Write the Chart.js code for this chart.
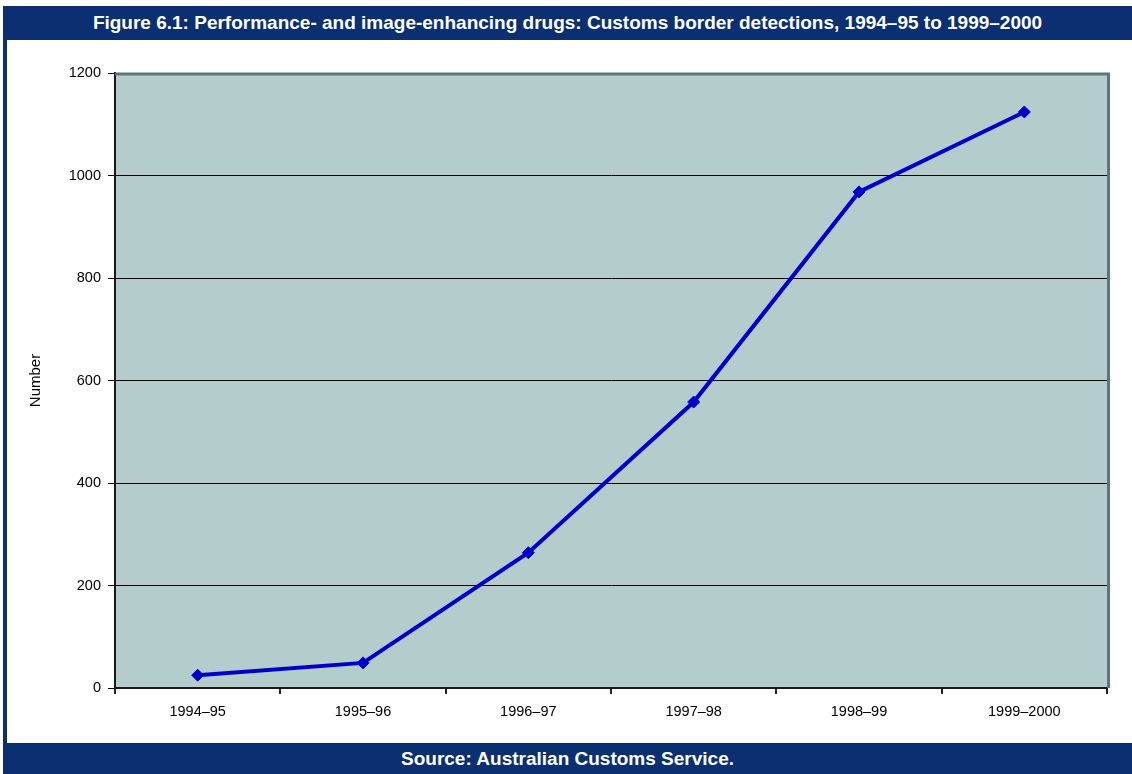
<!DOCTYPE html>
<html>
<head>
<meta charset="utf-8">
<script src="https://cdn.jsdelivr.net/npm/chart.js@4/dist/chart.umd.min.js"></script>
<style>
  html, body { margin: 0; padding: 0; background: #ffffff; }
  body { width: 1132px; height: 774px; position: relative; overflow: hidden; font-family: "Liberation Sans", Arial, sans-serif; }
  #chart { position: absolute; left: 0; top: 0; }
  .bar { position: absolute; left: 3px; right: 0; background: #0b2f70; color: #ffffff; font-weight: bold; text-align: center; white-space: nowrap; }
  #title { top: 6px; height: 34px; line-height: 34px; font-size: 19px; }
  #source { top: 743px; height: 31px; line-height: 31px; font-size: 19px; }
  #leftrule { position: absolute; left: 3px; top: 6px; width: 4px; height: 768px; background: #0b2f70; }
</style>
</head>
<body>
<canvas id="chart" width="1132" height="774"></canvas>
<div id="leftrule"></div>
<div class="bar" id="title">Figure 6.1: Performance- and image-enhancing drugs: Customs border detections, 1994–95 to 1999–2000</div>
<div class="bar" id="source">Source: Australian Customs Service.</div>
<script>
// Financial years and number of border detections
const years = ['1994–95', '1995–96', '1996–97', '1997–98', '1998–99', '1999–2000'];
const detections = [25, 49, 264, 558, 968, 1124];
const yTicks = [0, 200, 400, 600, 800, 1000, 1200];

// Plot panel: grey-green fill with a darker frame on the top and right edges
const panel = {
  id: 'panel',
  beforeDraw(chart) {
    const { ctx, chartArea: a } = chart;
    ctx.save();
    ctx.fillStyle = '#b4cccc';
    ctx.fillRect(a.left, a.top, a.right - a.left, a.bottom - a.top);
    ctx.restore();
  },
  afterDatasetsDraw(chart) {
    const { ctx, chartArea: a } = chart;
    ctx.save();
    ctx.strokeStyle = '#5b7777';
    ctx.lineWidth = 3;
    ctx.beginPath();
    ctx.moveTo(a.left, a.top + 1);
    ctx.lineTo(a.right + 1.5, a.top + 1);
    ctx.lineTo(a.right + 1.5, a.bottom);
    ctx.stroke();
    ctx.restore();
  }
};

const tickFont = { family: 'Liberation Sans', size: 14.5 };

new Chart(document.getElementById('chart'), {
  type: 'line',
  data: {
    labels: years,
    datasets: [{
      data: detections,
      borderColor: '#0000cc',
      backgroundColor: '#0000cc',
      borderWidth: 4,
      pointStyle: 'rectRot',
      pointRadius: 6,
      pointHoverRadius: 6,
      pointBorderWidth: 1,
      pointBorderColor: '#0000cc',
      pointBackgroundColor: '#0000cc',
      tension: 0,
      fill: false
    }]
  },
  options: {
    responsive: false,
    animation: false,
    events: [],
    layout: { padding: { left: 0, top: 73, right: 25, bottom: 0 } },
    plugins: { legend: { display: false }, tooltip: { enabled: false } },
    scales: {
      x: {
        offset: true,
        grid: { offset: true, drawOnChartArea: false, drawTicks: true, tickLength: 6, color: '#222222', lineWidth: 2 },
        border: { display: true, color: '#1a1a1a', width: 2 },
        ticks: { color: '#000000', font: tickFont, padding: 9, maxRotation: 0 },
        afterFit(s) { s.height = 86; }
      },
      y: {
        min: 0,
        max: 1200,
        afterBuildTicks(s) { s.ticks = yTicks.map(v => ({ value: v })); },
        grid: { color: '#000000', lineWidth: 1, tickLength: 7 },
        border: { display: true, color: '#1a1a1a', width: 2 },
        ticks: { color: '#000000', font: tickFont, padding: 7, callback: v => String(v) },
        title: { display: true, text: 'Number', color: '#000000', font: { family: 'Liberation Sans', size: 15 }, padding: { top: 27, bottom: 0 } },
        afterFit(s) { s.width = 115; }
      }
    }
  },
  plugins: [panel]
});
</script>
</body>
</html>
